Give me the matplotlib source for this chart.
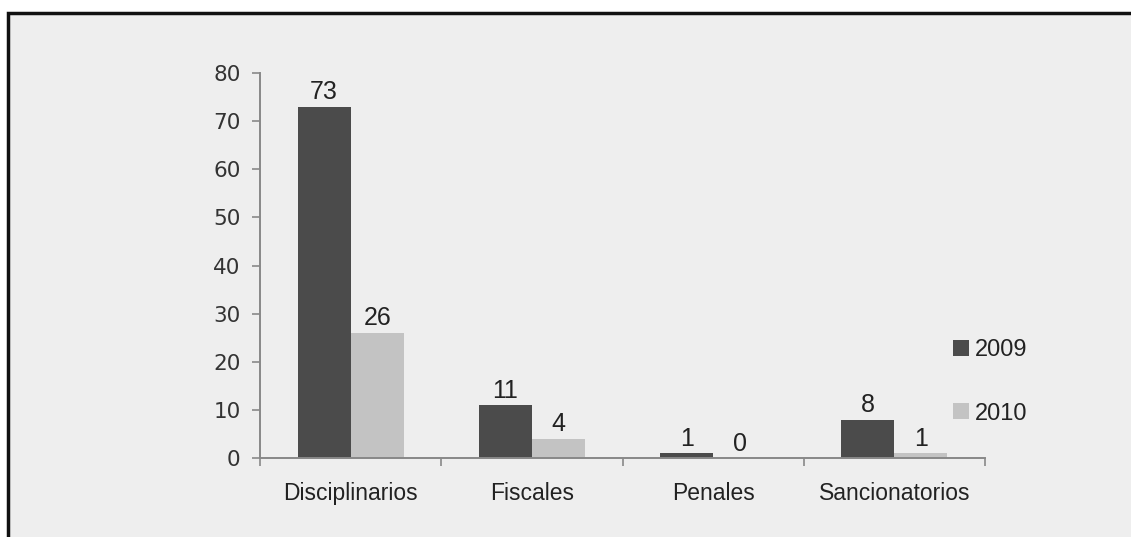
import matplotlib
matplotlib.use("Agg")
import matplotlib.pyplot as plt
from matplotlib import font_manager
from matplotlib.patches import Rectangle
import numpy as np

categorias = ["Disciplinarios", "Fiscales", "Penales", "Sancionatorios"]
valores_2009 = [73, 11, 1, 8]
valores_2010 = [26, 4, 0, 1]
anios = ["2009", "2010"]
yticks = [0, 10, 20, 30, 40, 50, 60, 70, 80]

color_2009 = "#4b4b4b"
color_2010 = "#c3c3c3"
fondo = "#eeeeee"

# fuente estrecha si existe
nombres = {f.name for f in font_manager.fontManager.ttflist}
estrecha = "Liberation Sans Narrow" if "Liberation Sans Narrow" in nombres else "Liberation Sans"

fig = plt.figure(figsize=(11.31, 5.37), dpi=100)
fig.patch.set_facecolor("white")

# marco exterior
marco = Rectangle((8 / 1131, -0.05), 1.2, 0.05 + 524 / 537, transform=fig.transFigure,
                  facecolor=fondo, edgecolor="#111111", linewidth=2.5, zorder=0)
fig.patches.append(marco)

ax = fig.add_axes([260 / 1131, (537 - 458) / 537, (985 - 260) / 1131, 385 / 537])
ax.set_facecolor("none")
ax.set_zorder(3)

x = np.arange(len(categorias))
ancho = 0.293
b1 = ax.bar(x - ancho / 2, valores_2009, ancho, color=color_2009, label=anios[0])
b2 = ax.bar(x + ancho / 2, valores_2010, ancho, color=color_2010, label=anios[1])

for barras in (b1, b2):
    for r in barras:
        ax.text(r.get_x() + r.get_width() / 2, r.get_height() + 0.5, f"{int(r.get_height())}",
                ha="center", va="bottom", fontsize=18, family=estrecha, color="#222222")

ax.set_xlim(-0.5, len(categorias) - 0.5)
ax.set_ylim(0, 80)
ax.set_yticks(yticks)
ax.set_yticklabels([str(v) for v in yticks], fontsize=15.5, family="DejaVu Sans", color="#333333")
ax.set_xticks(x)
ax.set_xticklabels(categorias, fontsize=16.5, family=estrecha, color="#222222")
ax.set_xticks(np.arange(len(categorias) + 1) - 0.5, minor=True)
ax.tick_params(axis="x", which="major", length=0, pad=17)
ax.tick_params(axis="x", which="minor", length=6, color="#888888", width=1.2)
ax.tick_params(axis="y", length=6, color="#888888", width=1.2, pad=8)

for lado in ("top", "right"):
    ax.spines[lado].set_visible(False)
for lado in ("left", "bottom"):
    ax.spines[lado].set_color("#888888")
    ax.spines[lado].set_linewidth(1.4)

ley = fig.legend(handles=[b1, b2], loc="upper left", bbox_to_anchor=(932 / 1131, 1 - 318 / 537),
                 frameon=False, handlelength=0.65, handleheight=0.65, handletextpad=0.25,
                 labelspacing=1.75, prop={"family": estrecha, "size": 17})
ley.set_zorder(4)
for t in ley.get_texts():
    t.set_color("#222222")

fig.savefig("out.png", dpi=100, facecolor=fig.get_facecolor())
